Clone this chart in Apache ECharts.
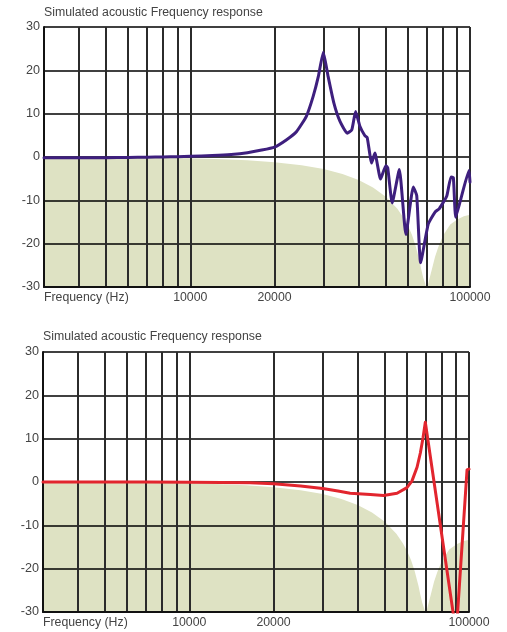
<!DOCTYPE html>
<html>
<head>
<meta charset="utf-8">
<script src="https://cdn.jsdelivr.net/npm/echarts@6/dist/echarts.min.js"></script>
<style>
html,body{margin:0;padding:0;background:#fff;}
#chart{width:507px;height:632px;}
</style>
</head>
<body>
<div id="chart"></div>
<script>
// ---- data ----
const chartTitle = 'Simulated acoustic Frequency response';
const xAxisTitle = 'Frequency (Hz)';
const gridFreqs = [3000, 4000, 5000, 6000, 7000, 8000, 9000, 10000, 20000, 30000, 40000, 50000, 60000, 70000, 80000, 90000, 100000];
const labelFreqs = [3000, 10000, 20000, 100000];
const yTicks = [-30, -20, -10, 0, 10, 20, 30];

// shaded envelope (same in both panels)
const envFreq = [3000, 5000, 7000, 10000, 13000, 16000, 20000, 25000, 30000, 35000, 40000, 45000, 50000, 55000, 58000, 60000, 62000, 64000, 66000, 67000, 68000, 69000, 70000, 71000, 72000, 73000, 75000, 77000, 80000, 85000, 90000, 95000, 100000];
const envDb = [-0.03, -0.07, -0.14, -0.29, -0.5, -0.76, -1.2, -1.91, -2.79, -3.92, -5.3, -7.01, -9.17, -11.95, -14.12, -15.86, -17.96, -20.67, -24.0, -26.0, -27.8, -29.0, -30.5, -29.0, -27.5, -26.0, -23.0, -20.8, -18.2, -15.6, -14.4, -13.7, -13.3];

// top panel response (purple)
const topFreq = [3000, 4000, 5000, 6000, 7000, 8000, 9000, 10000, 12000, 14000, 16000, 18000, 20000, 22100, 24000, 26000, 27500, 28700, 29900, 31100, 32600, 34300, 36400, 37800, 39000, 40400, 42100, 42900, 44500, 45700, 47900, 50000, 50800, 52700, 55900, 59000, 62700, 64500, 66600, 70900, 75000, 77700, 82600, 85500, 87200, 88900, 93400, 99200, 100000];
const topDb = [-0.2, -0.2, -0.15, -0.1, -0.05, 0.0, 0.08, 0.15, 0.35, 0.6, 1.0, 1.6, 2.3, 4.0, 5.9, 9.4, 14.0, 18.6, 24.2, 18.6, 12.5, 8.2, 5.5, 6.3, 10.5, 7.1, 4.9, 4.5, -1.4, 0.9, -5.1, -2.0, -2.5, -10.6, -2.9, -17.9, -6.9, -8.9, -24.4, -15.5, -12.7, -11.9, -9.0, -4.6, -4.8, -13.9, -8.9, -3.1, -5.8];

// bottom panel response (red)
const botFreq = [3000, 5000, 7000, 10000, 13000, 16500, 20000, 25000, 30000, 34000, 37600, 44400, 49500, 55300, 60000, 62500, 65200, 67000, 68500, 69800, 90000, 98400, 100000];
const botDb = [0, 0, 0, -0.05, -0.1, -0.2, -0.4, -0.9, -1.5, -2.1, -2.6, -2.9, -3.1, -2.6, -1.3, 0.2, 3.4, 6.7, 10.2, 13.8, -35, 2.8, 3.0];

// ---- build ----
const lg = f => Math.log10(f);
const pts = (fs, vs) => fs.map((f, i) => [lg(f), vs[i]]);
const font = 'Liberation Sans, Arial, Helvetica, sans-serif';
const txt = '#444';

function xAxisFor(gi) {
  return {
    type: 'value', gridIndex: gi, min: lg(gridFreqs[0]), max: lg(gridFreqs[gridFreqs.length - 1]),
    z: 3,
    axisLine: {show: true, onZero: false, lineStyle: {color: '#111', width: 2}},
    axisTick: {show: false, customValues: gridFreqs.map(lg)},
    splitLine: {show: true, lineStyle: {color: '#2b2b2b', width: 2}},
    axisLabel: {
      customValues: labelFreqs.map(lg), margin: 5, color: txt, fontSize: 12.3, fontFamily: font,
      alignMinLabel: 'left',
      formatter: v => Math.abs(v - lg(labelFreqs[0])) < 1e-6 ? xAxisTitle : String(Math.round(Math.pow(10, v)))
    }
  };
}
function yAxisFor(gi) {
  return {
    type: 'value', gridIndex: gi, min: yTicks[0], max: yTicks[yTicks.length - 1], interval: 10,
    z: 3,
    axisLine: {show: true, lineStyle: {color: '#111', width: 2}},
    axisTick: {show: false},
    splitLine: {show: true, lineStyle: {color: '#000', width: 1.5}},
    axisLabel: {margin: 4, color: txt, fontSize: 12.6, fontFamily: font}
  };
}
function envSeries(gi) {
  return {
    type: 'line', xAxisIndex: gi, yAxisIndex: gi, data: pts(envFreq, envDb),
    symbol: 'none', lineStyle: {width: 0, opacity: 0},
    areaStyle: {color: '#dee2c3', opacity: 1, origin: 'start'},
    z: 1, silent: true, clip: true
  };
}
function curveSeries(gi, fs, vs, color, smooth) {
  return {
    type: 'line', xAxisIndex: gi, yAxisIndex: gi, data: pts(fs, vs),
    symbol: 'none', smooth: smooth,
    lineStyle: {color: color, width: 3, join: 'round', cap: 'round'},
    z: 5, clip: true
  };
}

const chart = echarts.init(document.getElementById('chart'), null, {renderer: 'canvas'});
chart.setOption({
  animation: false,
  backgroundColor: '#fff',
  title: [
    {text: chartTitle, left: 42, top: 5, padding: [2, 2, 2, 2], textStyle: {fontSize: 12.3, fontWeight: 'normal', color: txt, fontFamily: font}},
    {text: chartTitle, left: 41, top: 329, padding: [2, 2, 2, 2], textStyle: {fontSize: 12.3, fontWeight: 'normal', color: txt, fontFamily: font}}
  ],
  grid: [
    {left: 44, right: 37, top: 27, height: 260},
    {left: 43, right: 38, top: 352, height: 260}
  ],
  xAxis: [xAxisFor(0), xAxisFor(1)],
  yAxis: [yAxisFor(0), yAxisFor(1)],
  series: [
    envSeries(0),
    curveSeries(0, topFreq, topDb, '#3e1f7e', 0.15),
    envSeries(1),
    curveSeries(1, botFreq, botDb, '#e2252e', false)
  ]
});
</script>
</body>
</html>
